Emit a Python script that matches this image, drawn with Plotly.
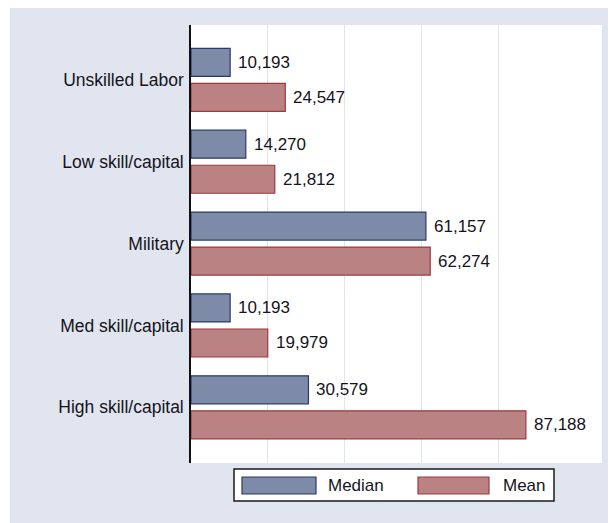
import plotly.graph_objects as go

categories = ["Unskilled Labor", "Low skill/capital", "Military", "Med skill/capital", "High skill/capital"]
median_vals = [10193, 14270, 61157, 10193, 30579]
mean_vals = [24547, 21812, 62274, 19979, 87188]
series_names = ["Median", "Mean"]
grid_vals = [0, 20000, 40000, 60000, 80000]

pos = list(range(len(categories)))

# page has an 8px body margin; figure drawn in a 608x515 box offset by 8px
OFF = 8
W, H = 616 - OFF, 523 - OFF
PL, PR, PT, PB = 191, 602, 25, 463          # plot area in page pixels
L, T = PL - OFF, PT - OFF
R, B = W - (PR - OFF), H - (PB - OFF)
pw, ph = PR - PL, PB - PT

def px(x):
    return (x - PL) / pw

def py(y):
    return (PB - y) / ph

med_fill, med_line = "#7d8aa8", "#2b3b66"
mean_fill, mean_line = "#bb8283", "#9a3a3e"
bg = "#e1e5ef"
txt = "#141420"
FONT = "Liberation Sans, Arial"

BW = 0.342
offs = [-0.385, 0.043]
fills = [med_fill, mean_fill]
lines = [med_line, mean_line]
series_vals = [median_vals, mean_vals]

fig = go.Figure()
annotations = []
for name, vals, off, fc, lc in zip(series_names, series_vals, offs, fills, lines):
    fig.add_trace(go.Bar(
        y=pos, x=vals, orientation="h", name=name,
        width=BW, offset=off,
        marker=dict(color=fc, line=dict(color=lc, width=1.2)),
        showlegend=False,
    ))
    for p, v in zip(pos, vals):
        annotations.append(dict(
            x=v, y=p + off + BW / 2, xref="x", yref="y", text=f"{v:,}",
            showarrow=False, xanchor="left", yanchor="middle", xshift=6,
            font=dict(family=FONT, size=17, color=txt),
        ))

shapes = [
    # thin white strip at far left
    dict(type="rect", xref="paper", yref="paper", x0=px(0), x1=px(10), y0=py(600), y1=py(-10),
         fillcolor="white", line=dict(width=0), layer="below"),
    # legend box
    dict(type="rect", xref="paper", yref="paper", x0=px(234), x1=px(554), y0=py(501), y1=py(469),
         fillcolor="white", line=dict(color="#1a1a1a", width=1.5)),
    dict(type="rect", xref="paper", yref="paper", x0=px(242), x1=px(316), y0=py(494), y1=py(477),
         fillcolor=med_fill, line=dict(color=med_line, width=1.2)),
    dict(type="rect", xref="paper", yref="paper", x0=px(418), x1=px(489), y0=py(494), y1=py(477),
         fillcolor=mean_fill, line=dict(color=mean_line, width=1.2)),
]
for label, xl in zip(series_names, [326, 501]):
    annotations.append(dict(
        xref="paper", yref="paper", x=px(xl), y=py(486), text=label, showarrow=False,
        xanchor="left", yanchor="middle", font=dict(family=FONT, size=17, color=txt),
    ))

fig.update_layout(
    width=W, height=H,
    margin=dict(l=L, r=R, t=T, b=B, pad=0),
    paper_bgcolor=bg, plot_bgcolor="white",
    barmode="overlay",
    shapes=shapes, annotations=annotations,
    showlegend=False,
    font=dict(family=FONT, size=17, color=txt),
)
fig.update_xaxes(
    range=[0, 107000], showgrid=True, gridcolor="#dfe4ee", gridwidth=1,
    tickmode="array", tickvals=grid_vals,
    showticklabels=False, ticks="", zeroline=False, showline=False,
)
fig.update_yaxes(
    tickvals=pos, ticktext=categories, range=[4.68, -0.67],
    showgrid=False, zeroline=False, showline=True, linecolor="#111111", linewidth=1.5,
    ticks="", ticklabelstandoff=2,
    tickfont=dict(family=FONT, size=17.5, color=txt),
)

fig.write_html("out.html")
